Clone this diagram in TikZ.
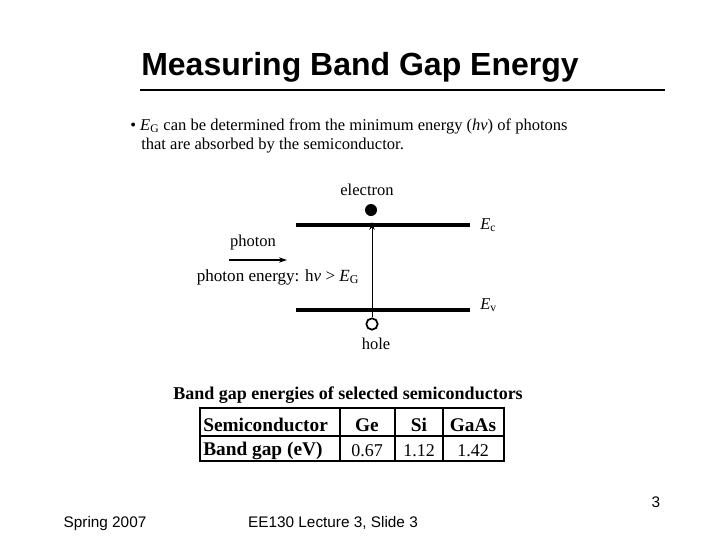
\documentclass[tikz,border=0pt]{standalone}
\usepackage{fontspec}
\usetikzlibrary{arrows.meta}
\setmainfont{Liberation Serif}
\newfontfamily\arial{Liberation Sans}
\newcommand{\EE}[1]{\textit{E}\textsubscript{#1}}
\begin{document}
\begin{tikzpicture}[x=0.75pt,y=-0.75pt,
  tm/.style={font=\fontsize{12.4}{14}\selectfont,inner sep=0pt},
  band/.style={line width=2.6pt},
  ft/.style={font=\arial\fontsize{11.5}{13}\selectfont,anchor=base,inner sep=0pt},
  tb/.style={font=\bfseries\fontsize{14.5}{16}\selectfont,inner sep=0pt}]
\useasboundingbox (0,0) rectangle (720,540);
\node[font=\arial\bfseries\fontsize{24}{28}\selectfont] (title) at (360,67) {Measuring Band Gap Energy};
\draw[line width=2.2pt] (140,90) -- (665,90);
\node[tm,anchor=west] (b1) at (130,126) {\textbullet\ \EE{G} can be determined from the minimum energy (\textit{hν}) of photons};
\node[tm,anchor=west] (b2) at (141,146) {that are absorbed by the semiconductor.};
% band diagram
\node[tm] (el) at (367,190) {electron};
\fill (371,210) circle (6);
\coordinate (ec1) at (296,225); \coordinate (ec2) at (470,225);
\coordinate (ev1) at (296,310); \coordinate (ev2) at (470,310);
\draw[band] (ec1) -- (ec2);
\draw[band] (ev1) -- (ev2);
\node[tm,anchor=west] (Ec) at (480,225) {\EE{c}};
\node[tm,anchor=west] (Ev) at (480,305) {\EE{v}};
\node[draw,circle,line width=1.3pt,minimum size=8.5pt,inner sep=0pt] (hole) at (372,324) {};
\coordinate (top) at (372,222);
\draw[-{Stealth[length=6pt,width=4pt]},line width=0.6pt] (hole) -- (top);
\node[tm] (hl) at (376,344) {hole};
\node[tm] (ph) at (253,243) {photon};
\coordinate (pa) at (229,260); \coordinate (pb) at (287,260);
\draw[-{Stealth[length=6pt,width=4pt]},line width=1.2pt] (pa) -- (pb);
\node[tm,font=\fontsize{12.8}{15}\selectfont] (pe) at (278,277) {photon energy: h\textit{ν} > \EE{G}};
% table
\node[tb,font=\bfseries\fontsize{13.5}{15}\selectfont] (cap) at (348,395) {Band gap energies of selected semiconductors};
\draw[line width=0.8pt] (200,408) rectangle (504,461);
\draw[line width=0.8pt] (200,436) -- (504,436);
\draw[line width=0.8pt] (340,408) -- (340,461);
\draw[line width=0.8pt] (395,408) -- (395,461);
\draw[line width=0.8pt] (443,408) -- (443,461);
\node[tb,anchor=west] (t1) at (203,425) {Semiconductor};
\node[tb,anchor=west] (t2) at (203,451) {Band gap (eV)};
\node[tb] (t3) at (367,425) {Ge};
\node[tb] (t4) at (419,425) {Si};
\node[tb] (t5) at (473,425) {GaAs};
\node[tm,font=\fontsize{13.5}{15}\selectfont] (t6) at (367,451) {0.67};
\node[tm,font=\fontsize{13.5}{15}\selectfont] (t7) at (419,451) {1.12};
\node[tm,font=\fontsize{13.5}{15}\selectfont] (t8) at (473,451) {1.42};
% footer
\node[ft] (f1) at (105,527) {Spring 2007};
\node[ft] (f2) at (333,527) {EE130 Lecture 3, Slide 3};
\node[ft] (f3) at (656,507) {3};
\end{tikzpicture}
\end{document}
